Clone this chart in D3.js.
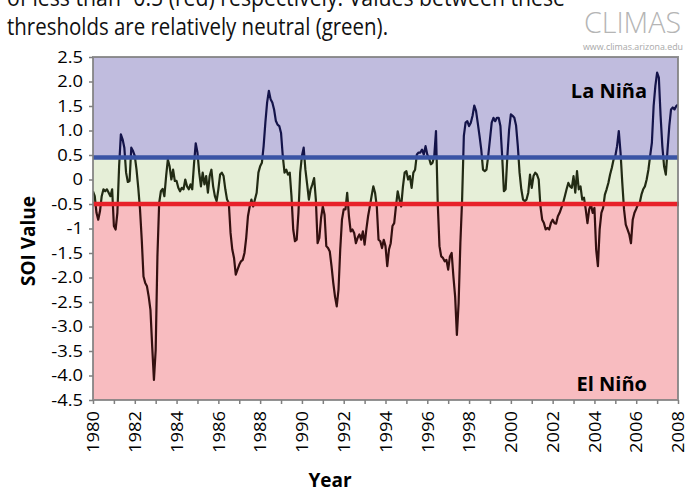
<!DOCTYPE html>
<html>
<head>
<meta charset="utf-8">
<script src="https://cdn.jsdelivr.net/npm/d3@7"></script>
<style>
html, body { margin: 0; padding: 0; background: #fff; overflow: hidden; }
svg { display: block; font-family: "Open Sans", "Noto Sans", sans-serif; }
</style>
</head>
<body>
<script>
const width = 695;
const height = 494;
const margin = {top: 57, right: 17, bottom: 94, left: 93};

// monthly SOI, Jan 1980 .. Jan 2008
const startYear = 1980;
const soi = [
  -0.24, -0.34, -0.68, -0.82, -0.65, -0.34, -0.2, -0.24, -0.2, -0.27, -0.34, -0.2,   // 1980
  -0.95, -1.02, -0.68, 0.27, 0.92, 0.82, 0.65, 0.14, -0.05, -0.03, 0.65, 0.58,       // 1981
  0.48, 0.2, -0.17, -0.61, -1.23, -1.98, -2.11, -2.18, -2.39, -2.66, -3.41, -4.09,   // 1982
  -3.48, -1.57, -0.48, -0.24, -0.19, -0.34, 0.07, 0.41, 0.27, 0.0, 0.2, -0.03,       // 1983
  -0.03, -0.17, -0.24, -0.17, -0.2, 0.0, -0.14, -0.2, -0.1, -0.2, 0.31, 0.74,        // 1984
  0.55, 0.14, -0.14, 0.14, -0.1, 0.07, -0.27, 0.07, 0.2, -0.14, -0.34, -0.44,        // 1985
  -0.2, 0.1, 0.14, 0.07, -0.2, -0.41, -0.48, -1.09, -1.43, -1.6, -1.94, -1.84,       // 1986
  -1.74, -1.67, -1.64, -1.5, -1.19, -0.75, -0.55, -0.41, -0.55, -0.41, -0.27, 0.14,  // 1987
  0.27, 0.34, 0.68, 1.16, 1.57, 1.81, 1.64, 1.57, 1.43, 1.2, 1.12, 1.09,             // 1988
  0.95, 0.48, 0.14, 0.2, 0.1, 0.14, -0.34, -1.02, -1.26, -1.23, -0.68, 0.14,         // 1989
  0.48, 0.65, 0.2, -0.1, -0.41, -0.2, -0.1, 0.03, -0.41, -1.3, -1.19, -0.78,         // 1990
  -0.55, -0.72, -1.36, -1.4, -1.47, -1.77, -2.11, -2.39, -2.59, -2.25, -1.43, -0.82, // 1991
  -0.61, -0.61, -0.27, -0.75, -1.06, -1.02, -1.09, -1.3, -1.19, -1.12, -1.23, -1.06, // 1992
  -1.33, -1.02, -0.75, -0.55, -0.34, -0.14, -0.27, -0.55, -1.23, -1.26, -1.4, -1.23, // 1993
  -1.36, -1.77, -1.43, -1.3, -0.95, -0.89, -0.55, -0.24, -0.41, -0.55, -0.15, 0.14,  // 1994
  0.17, 0.0, 0.07, -0.17, 0.14, 0.2, 0.51, 0.55, 0.55, 0.61, 0.51, 0.68,             // 1995
  0.51, 0.44, 0.31, 0.34, 0.48, 0.99, -0.48, -1.36, -1.57, -1.6, -1.67, -1.64,       // 1996
  -1.84, -1.57, -1.5, -1.98, -2.39, -3.17, -2.52, -1.3, -0.41, 0.89, 1.16, 1.19,     // 1997
  1.09, 1.16, 1.3, 1.51, 1.4, 1.15, 0.89, 0.61, 0.2, 0.17, 0.2, 0.48,                // 1998
  0.82, 1.16, 1.26, 1.19, 1.26, 1.26, 1.09, 0.48, -0.24, -0.2, 0.48, 1.02,           // 1999
  1.33, 1.3, 1.26, 1.1, 0.68, 0.14, -0.2, -0.41, -0.44, -0.41, -0.27, 0.1,           // 2000
  -0.17, 0.07, 0.14, 0.1, 0.0, -0.55, -0.82, -0.89, -1.02, -0.99, -1.02, -0.89,      // 2001
  -0.82, -0.89, -0.9, -0.75, -0.68, -0.58, -0.48, -0.34, -0.2, -0.07, -0.14, -0.17,  // 2002
  0.07, -0.27, 0.17, -0.2, -0.14, -0.41, -0.37, -0.61, -0.89, -0.61, -0.51, -0.68,   // 2003
  -0.58, -1.43, -1.77, -1.02, -0.68, -0.58, -0.31, -0.2, -0.07, 0.1, 0.24, 0.41,     // 2004
  0.48, 0.68, 0.99, 0.55, -0.07, -0.61, -0.92, -1.02, -1.12, -1.3, -0.82, -0.68,     // 2005
  -0.6, -0.51, -0.48, -0.31, -0.2, -0.14, 0.0, 0.2, 0.48, 0.75, 1.5, 1.91,           // 2006
  2.18, 2.08, 1.3, 0.68, 0.27, 0.1, 0.61, 1.09, 1.43, 1.47, 1.43, 1.5,               // 2007
  1.53                                                                               // 2008
];

// thresholds as drawn
const laNinaLevel = 0.45;
const elNinoLevel = -0.5;

const yTicks = [2.5, 2, 1.5, 1, 0.5, 0, -0.5, -1, -1.5, -2, -2.5, -3, -3.5, -4, -4.5];
const yTickLabels = ["2.5", "2.0", "1.5", "1.0", "0.5", "0", "-0.5", "-1", "-1.5",
                     "-2.0", "-2.5", "-3.0", "-3.5", "-4.0", "-4.5"];
const xYears = d3.range(1980, 2009);
const xLabelYears = d3.range(1980, 2009, 2);

const titleLines = [
  "of less than -0.5 (red) respectively. Values between these",
  "thresholds are relatively neutral (green)."
];
const titleWidths = [558, 381];

const svg = d3.select("body").append("svg")
    .attr("width", width)
    .attr("height", height);

const x = d3.scaleLinear()
    .domain([1980, 2008])
    .range([margin.left, width - margin.right]);

const y = d3.scaleLinear()
    .domain([-4.5, 2.5])
    .range([height - margin.bottom, margin.top]);

const x0 = x.range()[0], x1 = x.range()[1];
const yTop = y(2.5), yBot = y(-4.5);

// background bands
const bands = [
  {name: "nina", from: 2.5, to: laNinaLevel, fill: "#c0bcde", line: "#14144a"},
  {name: "neutral", from: laNinaLevel, to: elNinoLevel, fill: "#e6efd8", line: "#222b14"},
  {name: "nino", from: elNinoLevel, to: -4.5, fill: "#f8bcc0", line: "#341010"}
];

const defs = svg.append("defs");
bands.forEach(b => {
  defs.append("clipPath").attr("id", "clip-" + b.name)
    .append("rect")
    .attr("x", x0).attr("width", x1 - x0)
    .attr("y", y(b.from)).attr("height", y(b.to) - y(b.from));
});

svg.selectAll(".band")
  .data(bands)
  .enter().append("rect")
  .attr("class", "band")
  .attr("x", x0)
  .attr("width", x1 - x0)
  .attr("y", d => y(d.from))
  .attr("height", d => y(d.to) - y(d.from))
  .attr("fill", d => d.fill);

// SOI line, tinted by the band it runs through
const line = d3.line()
    .x((d, i) => x(startYear + i / 12))
    .y(d => y(d));

bands.forEach(b => {
  svg.append("path")
    .datum(soi)
    .attr("clip-path", "url(#clip-" + b.name + ")")
    .attr("d", line)
    .attr("fill", "none")
    .attr("stroke", b.line)
    .attr("stroke-width", 2.2)
    .attr("stroke-linejoin", "round");
});

// threshold lines
svg.append("line")
  .attr("x1", x0).attr("x2", x1)
  .attr("y1", y(laNinaLevel)).attr("y2", y(laNinaLevel))
  .attr("stroke", "#3a54a5").attr("stroke-width", 4.5);

svg.append("line")
  .attr("x1", x0).attr("x2", x1 + 1)
  .attr("y1", y(elNinoLevel)).attr("y2", y(elNinoLevel))
  .attr("stroke", "#e8212a").attr("stroke-width", 4.5);

// plot frame
svg.append("rect")
  .attr("x", x0).attr("y", yTop)
  .attr("width", x1 - x0).attr("height", yBot - yTop)
  .attr("fill", "none")
  .attr("stroke", "#7f7f7f")
  .attr("stroke-opacity", 0.85)
  .attr("stroke-width", 2);

const stretch = 1.15;

// y axis
const yAxis = svg.append("g")
  .attr("transform", `translate(${x0},0)`)
  .call(d3.axisLeft(y).tickValues(yTicks)
        .tickFormat((d, i) => yTickLabels[i]).tickSize(4).tickPadding(6));
yAxis.select(".domain").remove();
yAxis.selectAll(".tick line").attr("stroke", "#7f7f7f").attr("stroke-width", 1.5);
yAxis.selectAll(".tick text")
  .attr("font-size", 16)
  .attr("fill", "#000")
  .attr("x", -10 / stretch)
  .attr("transform", `scale(${stretch},1)`)
  .attr("font-family", "'Open Sans', sans-serif");

// x axis
const xAxis = svg.append("g")
  .attr("transform", `translate(0,${yBot})`)
  .call(d3.axisBottom(x).tickValues(xYears)
        .tickFormat(d => xLabelYears.includes(d) ? String(d) : "").tickSize(4));
xAxis.select(".domain").remove();
xAxis.selectAll(".tick line").attr("stroke", "#7f7f7f").attr("stroke-width", 1.5);
xAxis.selectAll(".tick text")
  .attr("font-size", 16)
  .attr("fill", "#000")
  .attr("text-anchor", "end")
  .attr("x", -11 / stretch)
  .attr("y", 0)
  .attr("dy", "0.36em")
  .attr("transform", `rotate(-90) scale(${stretch},1)`)
  .attr("font-family", "'Open Sans', sans-serif");

// axis titles
svg.append("text")
  .attr("transform", "translate(35,241) rotate(-90)")
  .attr("text-anchor", "middle")
  .attr("font-size", 19)
  .attr("font-weight", "bold")
  .text("SOI Value");

svg.append("text")
  .attr("x", 330).attr("y", 487)
  .attr("text-anchor", "middle")
  .attr("font-size", 19)
  .attr("font-weight", "bold")
  .text("Year");

// region labels
svg.append("text")
  .attr("x", 647).attr("y", 98)
  .attr("text-anchor", "end")
  .attr("font-size", 20)
  .attr("font-weight", "bold")
  .text("La Niña");

svg.append("text")
  .attr("x", 647).attr("y", 391)
  .attr("text-anchor", "end")
  .attr("font-size", 20)
  .attr("font-weight", "bold")
  .text("El Niño");

// caption text cut at the top
svg.selectAll(".caption")
  .data(titleLines)
  .enter().append("text")
  .attr("class", "caption")
  .attr("x", 7)
  .attr("y", (d, i) => 6 + i * 29)
  .attr("font-size", 23)
  .attr("fill", "#111")
  .attr("textLength", (d, i) => titleWidths[i])
  .attr("lengthAdjust", "spacingAndGlyphs")
  .text(d => d);

// CLIMAS mark
svg.append("text")
  .attr("x", 681).attr("y", 33)
  .attr("text-anchor", "end")
  .attr("font-size", 29)
  .attr("font-weight", 300)
  .attr("fill", "#b5b5b5")
  .attr("textLength", 97)
  .attr("lengthAdjust", "spacingAndGlyphs")
  .text("CLIMAS");

svg.append("text")
  .attr("x", 683).attr("y", 50)
  .attr("text-anchor", "end")
  .attr("font-size", 9)
  .attr("fill", "#a8a8a8")
  .attr("textLength", 100)
  .attr("lengthAdjust", "spacingAndGlyphs")
  .text("www.climas.arizona.edu");
</script>
</body>
</html>
